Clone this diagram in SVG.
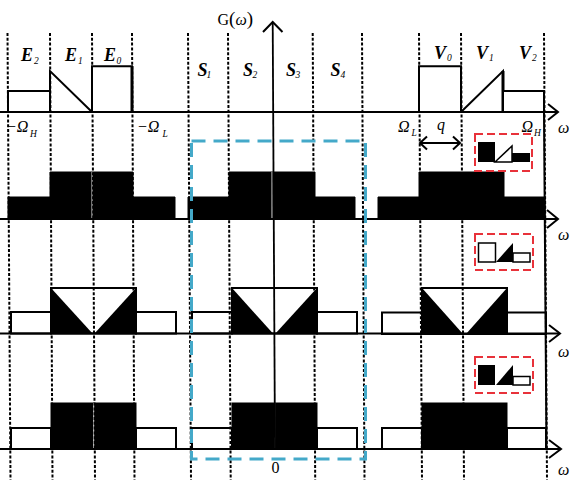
<svg xmlns="http://www.w3.org/2000/svg" width="571" height="480" viewBox="0 0 571 480">
<style>
.dash{stroke:#000;stroke-width:2;stroke-dasharray:3 1.8;fill:none}
.ax{stroke:#000;stroke-width:1.8;fill:none}
.arr{stroke:#000;stroke-width:2;fill:none;stroke-linejoin:miter}
.ol{stroke:#000;stroke-width:2;fill:#fff}
.blk{fill:#000;stroke:#000;stroke-width:1}
.sep{stroke:#fff;stroke-width:0.9}
.b{font-family:"Liberation Serif","DejaVu Serif",serif;font-weight:bold;font-style:italic;font-size:18px}
.s{font-family:"Liberation Serif","DejaVu Serif",serif;font-style:italic;font-size:9.5px}
.m{font-family:"Liberation Serif","DejaVu Serif",serif;font-style:italic;font-size:16px}
.w{font-family:"Liberation Serif","DejaVu Serif",serif;font-style:italic;font-size:16px}
.r{font-family:"Liberation Serif","DejaVu Serif",serif;font-size:16px}
.red{fill:none;stroke:#e8323a;stroke-width:2;stroke-dasharray:8 4}
.blue{fill:none;stroke:#44a9c9;stroke-width:3;stroke-dasharray:14 8}
</style>
<rect width="571" height="480" fill="#fff"/>

<g id="row2">
  <polygon class="blk" points="8,219 8,197 50,197 50,172 133,172 133,197 175,197 175,219"/>
  <line class="sep" x1="92" y1="172" x2="92" y2="218"/>
  <polygon class="blk" points="188,219 188,197 229,197 229,172 315,172 315,197 355,197 355,219"/>
  <line class="sep" x1="272" y1="172" x2="272" y2="218"/>
  <polygon class="blk" points="378,219 378,197 419,197 419,172 504,172 504,197 545,197 545,219"/>
</g>

<g id="row3">
  <rect class="ol" x="11" y="312" width="40" height="21.5"/>
  <rect class="ol" x="51" y="288" width="85" height="45.5"/>
  <rect class="ol" x="136" y="312" width="40" height="21.5"/>
  <polygon fill="#000" points="51,288 51,333.5 92.5,333.5"/>
  <polygon fill="#000" points="94.5,333.5 136,288 136,333.5"/>
  <rect class="ol" x="192" y="312" width="40" height="21.5"/>
  <rect class="ol" x="232" y="288" width="85" height="45.5"/>
  <rect class="ol" x="317" y="312" width="40" height="21.5"/>
  <polygon fill="#000" points="232,288 232,333.5 273,333.5"/>
  <polygon fill="#000" points="275.5,333.5 317,288 317,333.5"/>
  <rect class="ol" x="382" y="312.5" width="40" height="21.5"/>
  <rect class="ol" x="422" y="288" width="85" height="46"/>
  <rect class="ol" x="507" y="312.5" width="39" height="21.5"/>
  <polygon fill="#000" points="422,288 422,334 463,334"/>
  <polygon fill="#000" points="466,334 507,288 507,334"/>
</g>

<g id="row4">
  <rect class="ol" x="11" y="428" width="40" height="21"/>
  <rect class="ol" x="136" y="428" width="40" height="21"/>
  <rect class="blk" x="51" y="403" width="85" height="46"/>
  <line class="sep" x1="93.7" y1="403" x2="93.7" y2="448"/>
  <rect class="ol" x="192" y="428" width="40" height="21"/>
  <rect class="ol" x="317" y="428" width="40" height="21"/>
  <rect class="ol" x="382" y="428" width="40" height="21"/>
  <rect class="ol" x="507" y="428" width="39" height="21"/>
</g>

<g id="grid">
  <line class="dash" x1="7.5" y1="33" x2="10.5" y2="480"/>
  <line class="dash" x1="50" y1="33" x2="52.5" y2="480"/>
  <line class="dash" x1="92" y1="33" x2="95" y2="480"/>
  <line class="dash" x1="132" y1="33" x2="134.5" y2="480"/>
  <line class="dash" x1="188" y1="33" x2="191" y2="480"/>
  <line class="dash" x1="228" y1="33" x2="230.7" y2="480"/>
  <line class="dash" x1="312.7" y1="33" x2="315.2" y2="480"/>
  <line class="dash" x1="362" y1="33" x2="364.5" y2="480"/>
  <line class="dash" x1="419" y1="33" x2="422" y2="480"/>
  <line class="dash" x1="461" y1="33" x2="464" y2="480"/>
  <line class="dash" x1="544" y1="33" x2="547" y2="480"/>
</g>

<g id="row4-black">
  <rect class="blk" x="232" y="403" width="85" height="46"/>
  <line class="sep" x1="274.7" y1="403" x2="274.7" y2="448"/>
  <rect class="blk" x="422" y="403" width="85" height="46"/>
</g>

<g id="row1">
  <polyline class="ol" points="8,112 8,91 50,91 50,112"/>
  <polyline class="ol" style="fill:none" points="50,91 50,71 92,112"/>
  <polyline class="ol" points="92,112 92,66.3 132,66.3 132,112"/>
  <line x1="132" y1="66" x2="132" y2="112" stroke="#000" stroke-width="3"/>
  <polyline class="ol" points="419,112 419,66.3 461,66.3 461,112"/>
  <polyline class="ol" style="fill:none" points="461,112 503,71 503,112"/>
  <line x1="503" y1="71" x2="503" y2="112" stroke="#000" stroke-width="3"/>
  <polyline class="ol" points="503,112 503,91 544,91 544,112"/>
</g>

<g id="connectors">
  <line class="ax" x1="272.7" y1="22" x2="275" y2="449"/>
  <polyline class="arr" points="263,32 272.7,22 282.5,32"/>
  <line class="ax" x1="0" y1="112" x2="557" y2="112"/>
  <polyline class="arr" points="548,104 558,112 548,120"/>
  <line class="ax" x1="0" y1="219" x2="557" y2="219"/>
  <polyline class="arr" points="547,210 558,219 547,228"/>
  <line class="ax" x1="0" y1="333.5" x2="559" y2="333.5"/>
  <polyline class="arr" points="549,325 560,333.5 549,342"/>
  <line class="ax" x1="0" y1="449" x2="560" y2="449"/>
  <polyline class="arr" points="549,440 561,449 549,458"/>
  <line x1="544" y1="112" x2="546.5" y2="449" stroke="#000" stroke-width="2"/>
  <line class="ax" x1="420" y1="143" x2="460" y2="143"/>
  <polyline class="arr" points="427,136.5 420,143 427,149.5"/>
  <polyline class="arr" points="453,136.5 460,143 453,149.5"/>
</g>

<g id="center-box">
  <rect class="blue" x="191.5" y="141" width="174" height="318"/>
</g>

<g id="icon1">
  <rect class="red" x="475" y="134" width="57" height="37"/>
  <rect x="478" y="142" width="17" height="20" fill="#000"/>
  <path d="M495,162 L512,146 L512,162 Z" fill="#fff" stroke="#000" stroke-width="1.5"/>
  <rect x="512" y="153" width="18" height="9" fill="#000"/>
</g>
<g id="icon2">
  <rect class="red" x="475" y="234" width="58" height="36"/>
  <rect x="478.5" y="243" width="17" height="19" fill="#fff" stroke="#000" stroke-width="1.5"/>
  <path d="M496,262 L513,243 L513,262 Z" fill="#000"/>
  <rect x="513" y="253" width="17" height="9" fill="#fff" stroke="#000" stroke-width="1.5"/>
</g>
<g id="icon3">
  <rect class="red" x="475" y="357" width="58" height="36"/>
  <rect x="478" y="365" width="17" height="20" fill="#000"/>
  <path d="M496,385 L513,365 L513,385 Z" fill="#000"/>
  <rect x="513" y="376.5" width="17" height="8.5" fill="#fff" stroke="#000" stroke-width="1.5"/>
</g>

<g id="labels">
  <text class="b" x="21" y="61">E</text><text class="s" x="34" y="63.5">2</text>
  <text class="b" x="65" y="61">E</text><text class="s" x="78" y="63.5">1</text>
  <text class="b" x="104" y="61">E</text><text class="s" x="116.5" y="63.5">0</text>
  <text class="b" x="197.5" y="75.5">S</text><text class="s" x="206.5" y="78">1</text>
  <text class="b" x="243" y="75.5">S</text><text class="s" x="252.5" y="78">2</text>
  <text class="b" x="286" y="75.5">S</text><text class="s" x="295.5" y="78">3</text>
  <text class="b" x="330.5" y="75.5">S</text><text class="s" x="340.5" y="78">4</text>
  <text class="b" x="434" y="58.5">V</text><text class="s" x="447" y="61">0</text>
  <text class="b" x="476" y="58.5">V</text><text class="s" x="489" y="61">1</text>
  <text class="b" x="519" y="58.5">V</text><text class="s" x="532" y="61">2</text>
  <text class="r" x="217.5" y="24.5">G<tspan font-size="19">(</tspan><tspan font-style="italic">ω</tspan><tspan font-size="19">)</tspan></text>
  <text class="m" x="6" y="132">−Ω</text><text class="s" x="30" y="137">H</text>
  <text class="m" x="137" y="132">−Ω</text><text class="s" x="162.5" y="137">L</text>
  <text class="m" x="398" y="132">Ω</text><text class="s" x="411.5" y="136">L</text>
  <text class="w" x="437" y="129.5">q</text>
  <text class="m" x="521.5" y="132">Ω</text><text class="s" x="534" y="136">H</text>
  <text class="w" x="558" y="133">ω</text>
  <text class="w" x="558" y="240">ω</text>
  <text class="w" x="558" y="357">ω</text>
  <text class="w" x="558" y="475">ω</text>
  <text class="r" x="271.5" y="473">0</text>
</g>
</svg>
